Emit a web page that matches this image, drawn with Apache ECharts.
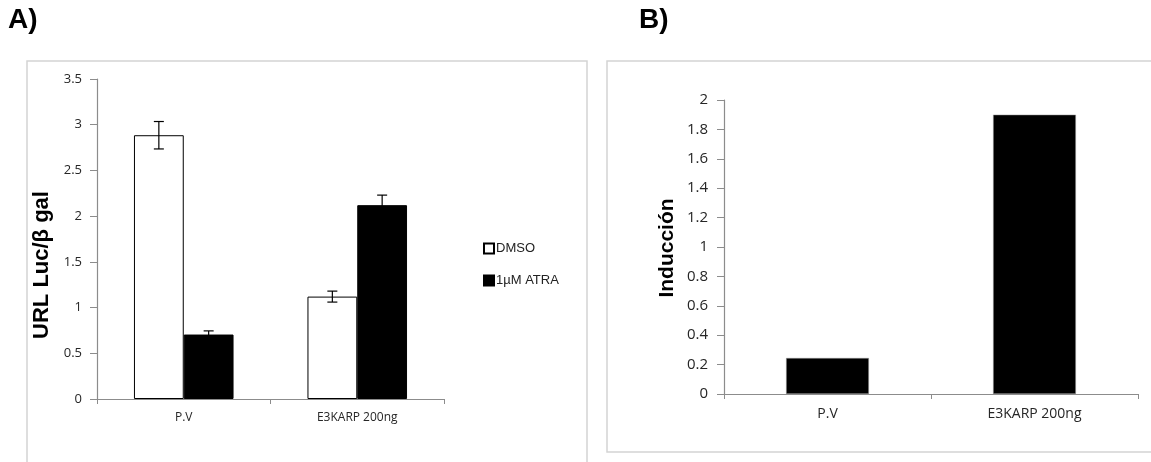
<!DOCTYPE html>
<html>
<head>
<meta charset="utf-8">
<script src="https://cdn.jsdelivr.net/npm/echarts@6/dist/echarts.min.js"></script>
<style>
  html, body { margin: 0; padding: 0; background: #fff; }
  #chart { width: 1151px; height: 462px; }
</style>
</head>
<body>
<div id="chart"></div>
<script>
// panel A
const categories = ['P.V', 'E3KARP 200ng'];
const dmso = [2.885, 1.12];
const dmsoErr = [0.15, 0.06];
const atra = [0.705, 2.12];
const atraErr = [0.04, 0.11];
// panel B
const induccion = [0.245, 1.9];

const tickFont = 'Open Sans, Noto Sans, sans-serif';
const axisGrey = '#8c8c8c';
const barW = 0.287; // fraction of a category band

const chart = echarts.init(document.getElementById('chart'));

// error bar drawn on top of a bar, side = -1 (left bar) or 1 (right bar)
function errorBars(values, errs, side) {
  return {
    type: 'custom',
    xAxisIndex: 0,
    yAxisIndex: 0,
    z: 5,
    silent: true,
    data: values.map((v, i) => [i, v, errs[i]]),
    renderItem: (params, api) => {
      const i = api.value(0);
      const v = api.value(1);
      const e = api.value(2);
      const band = api.size([1, 0])[0];
      const dx = side * band * barW / 2;
      const hi = api.coord([i, v + e]);
      const lo = api.coord([i, v - e]);
      const x = hi[0] + dx;
      const cap = 5;
      const style = { stroke: '#000', lineWidth: 1.2 };
      return {
        type: 'group',
        children: [
          { type: 'line', shape: { x1: x, y1: hi[1], x2: x, y2: lo[1] }, style },
          { type: 'line', shape: { x1: x - cap, y1: hi[1], x2: x + cap, y2: hi[1] }, style },
          { type: 'line', shape: { x1: x - cap, y1: lo[1], x2: x + cap, y2: lo[1] }, style }
        ]
      };
    }
  };
}

const catAxis = (gridIndex, fontSize) => ({
  type: 'category',
  gridIndex,
  data: categories,
  axisLine: { lineStyle: { color: axisGrey, width: 1.2 } },
  axisTick: { show: true, length: 5, lineStyle: { color: axisGrey } },
  axisLabel: { color: '#262626', fontFamily: tickFont, fontSize, margin: 13 }
});

const valAxis = (gridIndex, max, interval, fontSize, margin) => ({
  type: 'value',
  gridIndex,
  min: 0,
  max,
  interval,
  axisLine: { show: true, lineStyle: { color: axisGrey, width: 1.2 } },
  axisTick: { show: true, length: 7, lineStyle: { color: axisGrey } },
  axisLabel: { color: '#262626', fontFamily: tickFont, fontSize, margin },
  splitLine: { show: false }
});

const option = {
  animation: false,
  backgroundColor: '#fff',
  grid: [
    { left: 97, top: 79, width: 347, height: 320 },
    { left: 724, top: 100, width: 414, height: 294 }
  ],
  xAxis: [catAxis(0, 12), catAxis(1, 14)],
  yAxis: [valAxis(0, 3.5, 0.5, 13, 15), valAxis(1, 2, 0.2, 15, 16)],
  legend: {
    data: ['DMSO', '1µM ATRA'],
    orient: 'vertical',
    left: 478,
    top: 237,
    itemWidth: 10,
    itemHeight: 10,
    itemGap: 19,
    icon: 'rect',
    textStyle: { color: '#222', fontFamily: 'Liberation Sans, Arial, sans-serif', fontSize: 13, padding: [0, 0, 0, -3] }
  },
  graphic: [
    { type: 'rect', shape: { x: 27, y: 61, width: 560, height: 420 }, style: { fill: 'none', stroke: '#d4d4d4', lineWidth: 1.5 }, z: -1 },
    { type: 'rect', shape: { x: 607, y: 61, width: 560, height: 391 }, style: { fill: 'none', stroke: '#d4d4d4', lineWidth: 1.5 }, z: -1 },
    { type: 'text', left: 8, top: 6, style: { text: 'A)', font: 'bold 28px Liberation Sans, Arial, sans-serif', fill: '#000' } },
    { type: 'text', left: 639, top: 6, style: { text: 'B)', font: 'bold 28px Liberation Sans, Arial, sans-serif', fill: '#000' } },
    { type: 'text', x: 42, y: 265, rotation: Math.PI / 2, style: { text: 'URL Luc/β gal', font: 'bold 22px Liberation Sans, Arial, sans-serif', fill: '#000', align: 'center', verticalAlign: 'middle' } },
    { type: 'text', x: 667, y: 248, rotation: Math.PI / 2, style: { text: 'Inducción', font: 'bold 21px Liberation Sans, Arial, sans-serif', fill: '#000', align: 'center', verticalAlign: 'middle' } }
  ],
  series: [
    {
      name: 'DMSO',
      type: 'bar',
      xAxisIndex: 0,
      yAxisIndex: 0,
      data: dmso,
      barWidth: (barW * 100) + '%',
      barGap: '0%',
      itemStyle: { color: '#fff', borderColor: '#000', borderWidth: 1 }
    },
    {
      name: '1µM ATRA',
      type: 'bar',
      xAxisIndex: 0,
      yAxisIndex: 0,
      data: atra,
      barWidth: (barW * 100) + '%',
      barGap: '0%',
      itemStyle: { color: '#000', borderColor: '#000', borderWidth: 1 }
    },
    errorBars(dmso, dmsoErr, -1),
    errorBars(atra, atraErr, 1),
    {
      name: 'Inducción',
      type: 'bar',
      xAxisIndex: 1,
      yAxisIndex: 1,
      data: induccion,
      barWidth: '40%',
      itemStyle: { color: '#000', borderColor: '#999', borderWidth: 0.5 }
    }
  ]
};

chart.setOption(option);
</script>
</body>
</html>
